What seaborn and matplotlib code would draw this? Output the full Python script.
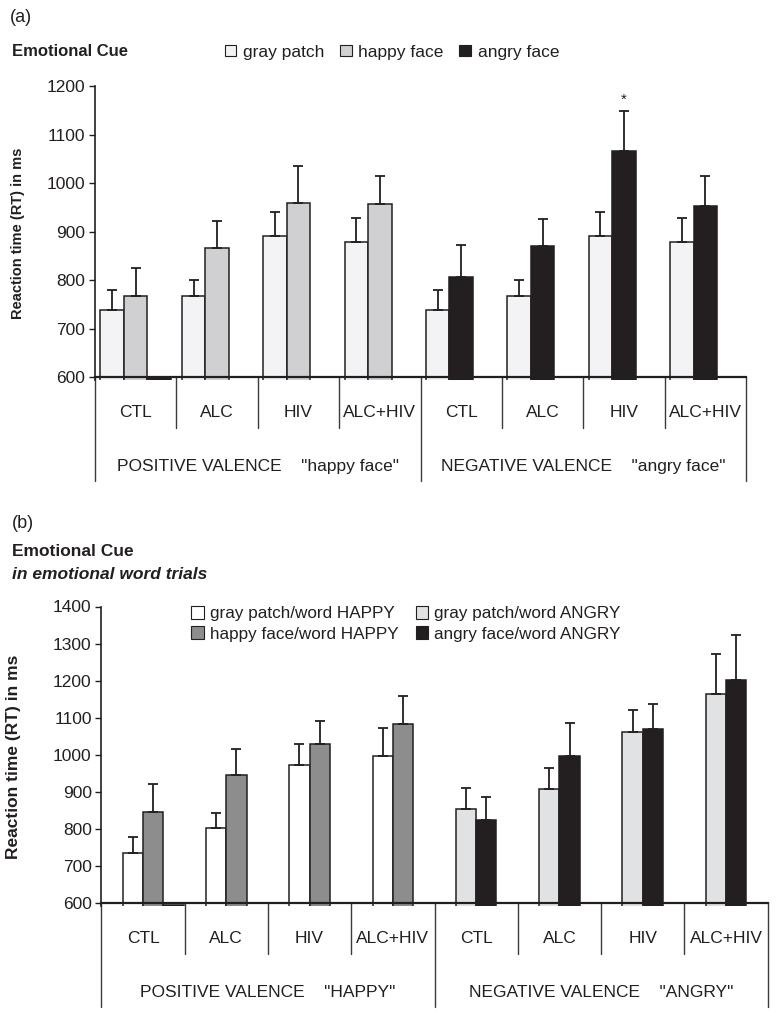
import numpy as np
import pandas as pd
import matplotlib
matplotlib.use("Agg")
import matplotlib.pyplot as plt
from matplotlib.patches import Patch
import seaborn as sns

# ---- data (mean reaction time and upper error, ms) ----
groups = ["CTL", "ALC", "HIV", "ALC+HIV"]

# panel (a)
a_gray_pos = [739, 768, 891, 879]
a_gray_pos_err = [41, 33, 49, 49]
a_happy = [768, 867, 960, 957]
a_happy_err = [58, 56, 75, 59]
a_gray_neg = [739, 767, 891, 879]
a_gray_neg_err = [41, 34, 49, 49]
a_angry = [806, 870, 1066, 953]
a_angry_err = [66, 56, 83, 62]
a_stub = 597  # stray near-empty bar next to CTL (positive)
a_labels = ["gray patch", "happy face", "angry face"]
a_valence = ['POSITIVE VALENCE    "happy face"', 'NEGATIVE VALENCE    "angry face"']

# panel (b)
b_gray_happy = [736, 804, 972, 997]
b_gray_happy_err = [43, 39, 58, 76]
b_happy = [847, 947, 1030, 1084]
b_happy_err = [74, 68, 62, 76]
b_gray_angry = [855, 908, 1063, 1165]
b_gray_angry_err = [55, 56, 59, 107]
b_angry = [824, 997, 1070, 1203]
b_angry_err = [63, 89, 68, 120]
b_stub = 596
b_labels = ["gray patch/word HAPPY", "happy face/word HAPPY",
            "gray patch/word ANGRY", "angry face/word ANGRY"]
b_valence = ['POSITIVE VALENCE    "HAPPY"', 'NEGATIVE VALENCE    "ANGRY"']

INK = "#231f20"
LINE = "#3a3a3a"
a_colors = ["#f3f3f5", "#d0d0d2", INK]
b_colors = ["#ffffff", "#8d8d8d", "#e1e2e3", INK]

conds = ["P-" + g for g in groups] + ["N-" + g for g in groups]

sns.set_style("ticks")
plt.rcParams["font.family"] = ["Liberation Sans", "DejaVu Sans"]
plt.rcParams["text.color"] = INK


def build(cue_pos, cue_pos_err, face_pos, face_pos_err, cue_neg, cue_neg_err,
          face_neg, face_neg_err, stub, colors):
    # colors: cue (pos), face (pos), cue (neg), face (neg)
    rows = []
    for i, g in enumerate(groups):
        rows.append(("P-" + g, "cue", cue_pos[i], cue_pos_err[i], colors[0]))
        rows.append(("P-" + g, "face", face_pos[i], face_pos_err[i], colors[1]))
        rows.append(("N-" + g, "cue", cue_neg[i], cue_neg_err[i], colors[2]))
        rows.append(("N-" + g, "face", face_neg[i], face_neg_err[i], colors[3]))
    rows.append(("P-CTL", "pad", stub, 0, INK))
    return pd.DataFrame(rows, columns=["cond", "slot", "rt", "err", "color"])


def draw_panel(ax, df, slots, width, ylim, star=None):
    sns.barplot(data=df, x="cond", y="rt", hue="slot", order=conds, hue_order=slots,
                palette={s: "white" for s in slots}, width=width, errorbar=None,
                edgecolor=INK, linewidth=1.1, legend=False, ax=ax)
    n = len(slots)
    sw = width / n
    lookup = {(r.cond, r.slot): r for r in df.itertuples()}
    for bar in list(ax.patches):
        cx = bar.get_x() + bar.get_width() / 2
        gi = int(round(cx))
        si = int(round((cx - gi) / sw + (n - 1) / 2))
        row = lookup.get((conds[gi], slots[si]))
        if row is None:
            continue
        bar.set_facecolor(row.color)
        if row.err > 0:
            ax.errorbar(cx, row.rt, yerr=[[0], [row.err]], fmt="none", ecolor=INK,
                        elinewidth=1.3, capsize=3.5, capthick=1.3, zorder=1)
        if star is not None and (row.cond, row.slot) == star:
            ax.annotate("*", (cx, row.rt + row.err), xytext=(0, 3),
                        textcoords="offset points", ha="center", va="bottom",
                        fontsize=11)

    ax.set_xlim(-0.5, 7.5)
    ax.set_ylim(*ylim)
    ax.set_yticks(np.arange(600, ylim[1] + 1, 100))
    ax.tick_params(axis="y", labelsize=12.5, length=4, width=1, color=INK,
                   labelcolor=INK, pad=3)
    ax.set_xticks([])
    ax.set_xlabel("")
    ax.set_ylabel("Reaction time (RT) in ms", fontweight="bold", color=INK)
    for s in ["top", "right"]:
        ax.spines[s].set_visible(False)
    ax.spines["bottom"].set_position(("data", 600))
    ax.spines["bottom"].set_linewidth(1.6)
    ax.spines["bottom"].set_color(INK)
    ax.spines["bottom"].set_zorder(5)
    ax.spines["left"].set_linewidth(1.2)
    ax.spines["left"].set_color(INK)


def draw_table(ax, valence, ylim):
    # pixel offsets below the 600 line converted to data units
    ppu = ax.bbox.height / (ylim[1] - ylim[0])

    def below(px):
        return 600 - px / ppu

    centers = np.arange(len(conds))
    for x in centers[:-1] + 0.5:
        if x == 3.5:
            continue
        ax.plot([x, x], [600, below(51)], color=LINE, lw=1, clip_on=False)
    for x in [-0.5, 3.5, 7.5]:
        ax.plot([x, x], [600, below(104)], color=LINE, lw=1, clip_on=False)
    for i, c in enumerate(centers):
        ax.text(c, below(35), groups[i % 4], ha="center", va="center",
                fontsize=12.5, clip_on=False)
    for k, lab in enumerate(valence):
        ax.text(1.5 + 4 * k, below(89), lab, ha="center", va="center",
                fontsize=12.5, clip_on=False)


fig = plt.figure(figsize=(7.8, 10.22), dpi=100)
W, H = 780, 1022

# ---- panel (a) ----
ylim_a = (593, 1200)
ax_a = fig.add_axes([95 / W, 1 - 380.4 / H, 651 / W, 294 / H])
df_a = build(a_gray_pos, a_gray_pos_err, a_happy, a_happy_err, a_gray_neg,
             a_gray_neg_err, a_angry, a_angry_err, a_stub,
             [a_colors[0], a_colors[1], a_colors[0], a_colors[2]])
draw_panel(ax_a, df_a, ["cue", "face", "pad"], 0.866, ylim_a, star=("N-HIV", "face"))
ax_a.yaxis.label.set_size(10.5)
ax_a.yaxis.set_label_coords(-0.108, 0.5)
draw_table(ax_a, a_valence, ylim_a)

fig.text(10 / W, 1 - 18 / H, "(a)", fontsize=13, va="center")
fig.text(12 / W, 1 - 52 / H, "Emotional Cue", fontsize=12, fontweight="bold", va="center")
fig.legend(handles=[Patch(facecolor=c, edgecolor=INK, lw=0.8, label=l)
                    for c, l in zip(a_colors, a_labels)],
           ncol=3, loc="center left", bbox_to_anchor=(225 / W, 1 - 52 / H),
           frameon=False, fontsize=12.5, handlelength=0.65, handleheight=0.65,
           handletextpad=0.4, columnspacing=0.9, borderpad=0, borderaxespad=0)

# ---- panel (b) ----
ylim_b = (592, 1400)
ax_b = fig.add_axes([101.4 / W, 1 - 906.3 / H, 666.3 / W, 299.8 / H])
df_b = build(b_gray_happy, b_gray_happy_err, b_happy, b_happy_err, b_gray_angry,
             b_gray_angry_err, b_angry, b_angry_err, b_stub, b_colors)
draw_panel(ax_b, df_b, ["lead", "cue", "face", "pad"], 0.975, ylim_b)
ax_b.yaxis.label.set_size(12.5)
ax_b.yaxis.set_label_coords(-0.12, 0.5)
draw_table(ax_b, b_valence, ylim_b)

fig.text(12 / W, 1 - 523 / H, "(b)", fontsize=13, va="center")
fig.text(12 / W, 1 - 551 / H, "Emotional Cue", fontsize=12.5, fontweight="bold", va="center")
fig.text(12 / W, 1 - 574 / H, "in emotional word trials", fontsize=12.5,
         fontweight="bold", fontstyle="italic", va="center")
fig.legend(handles=[Patch(facecolor=c, edgecolor=INK, lw=0.8, label=l)
                    for c, l in zip(b_colors, b_labels)],
           ncol=2, loc="upper left", bbox_to_anchor=(191 / W, 1 - 606 / H),
           frameon=False, fontsize=12.3, handlelength=0.75, handleheight=0.75,
           handletextpad=0.35, columnspacing=1.0, labelspacing=0.3,
           borderpad=0, borderaxespad=0)

fig.savefig("out.png", dpi=100)
